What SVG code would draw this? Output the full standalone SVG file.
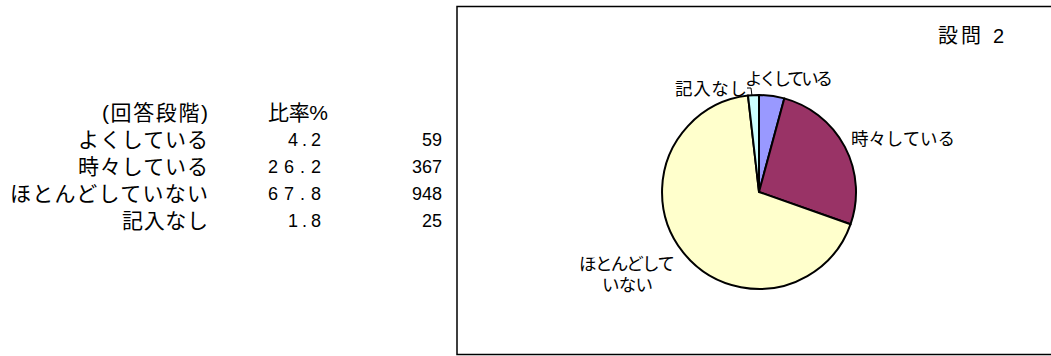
<svg xmlns="http://www.w3.org/2000/svg" width="1051" height="356" viewBox="0 0 1051 356">
<style>
.t{font-family:"Liberation Sans","Noto Sans CJK JP",sans-serif;fill:#000}
.tbl{font-size:21px}
.num{font-size:18px}
.lbl{font-size:17.5px}
.slice{stroke:#000;stroke-width:2;stroke-linejoin:round}
</style>
<rect width="1051" height="356" fill="#fff"/>
<g id="table">
<text class="t tbl" x="208" y="120" text-anchor="end" textLength="106" lengthAdjust="spacing">(回答段階)</text>
<text class="t tbl" x="268" y="120" textLength="60" lengthAdjust="spacing">比率%</text>
<text class="t tbl" x="208" y="147" text-anchor="end" textLength="130" lengthAdjust="spacing">よくしている</text>
<text class="t tbl" x="208" y="174" text-anchor="end" textLength="130" lengthAdjust="spacing">時々している</text>
<text class="t tbl" x="208" y="201" text-anchor="end" textLength="198" lengthAdjust="spacing">ほとんどしていない</text>
<text class="t tbl" x="208" y="228" text-anchor="end" textLength="86" lengthAdjust="spacing">記入なし</text>
<text class="t num" x="321" y="146" text-anchor="end" textLength="33" lengthAdjust="spacing">4.2</text>
<text class="t num" x="321" y="173" text-anchor="end" textLength="53" lengthAdjust="spacing">26.2</text>
<text class="t num" x="321" y="200" text-anchor="end" textLength="53" lengthAdjust="spacing">67.8</text>
<text class="t num" x="321" y="227" text-anchor="end" textLength="33" lengthAdjust="spacing">1.8</text>
<text class="t num" x="442" y="146" text-anchor="end">59</text>
<text class="t num" x="442" y="173" text-anchor="end">367</text>
<text class="t num" x="442" y="200" text-anchor="end">948</text>
<text class="t num" x="442" y="227" text-anchor="end">25</text>
</g>
<g id="chart-frame">
<rect x="457" y="6.5" width="600" height="348" fill="#fff" stroke="#000" stroke-width="1.5"/>
<text class="t" x="938" y="43" style="font-size:20px" textLength="66" lengthAdjust="spacing">設問 2</text>
</g>
<g id="pie">
<g id="slice-yoku"><path class="slice" fill="#9999FF" d="M759,192 L759,95 A97,97 0 0 1 784.3,98.4 Z"/></g>
<g id="slice-tokidoki"><path class="slice" fill="#993366" d="M759,192 L784.3,98.4 A97,97 0 0 1 850.5,224.3 Z"/></g>
<g id="slice-hotondo"><path class="slice" fill="#FFFFCC" d="M759,192 L850.5,224.3 A97,97 0 1 1 748.0,95.6 Z"/></g>
<g id="slice-kinyu"><path class="slice" fill="#CCFFFF" d="M759,192 L748.0,95.6 A97,97 0 0 1 759,95 Z"/></g>
</g>
<g id="connectors">
<polyline points="747,88 751,88 752,96" fill="none" stroke="#000" stroke-width="1"/>
</g>
<g id="labels">
<text class="t lbl" x="745" y="85" textLength="88" lengthAdjust="spacing">よくしている</text>
<text class="t lbl" x="675" y="95" textLength="72" lengthAdjust="spacing">記入なし</text>
<text class="t lbl" x="851" y="145" textLength="104" lengthAdjust="spacing">時々している</text>
<text class="t lbl" x="579" y="270" textLength="96" lengthAdjust="spacing">ほとんどして</text>
<text class="t lbl" x="602" y="291" textLength="51" lengthAdjust="spacing">いない</text>
</g>
</svg>
